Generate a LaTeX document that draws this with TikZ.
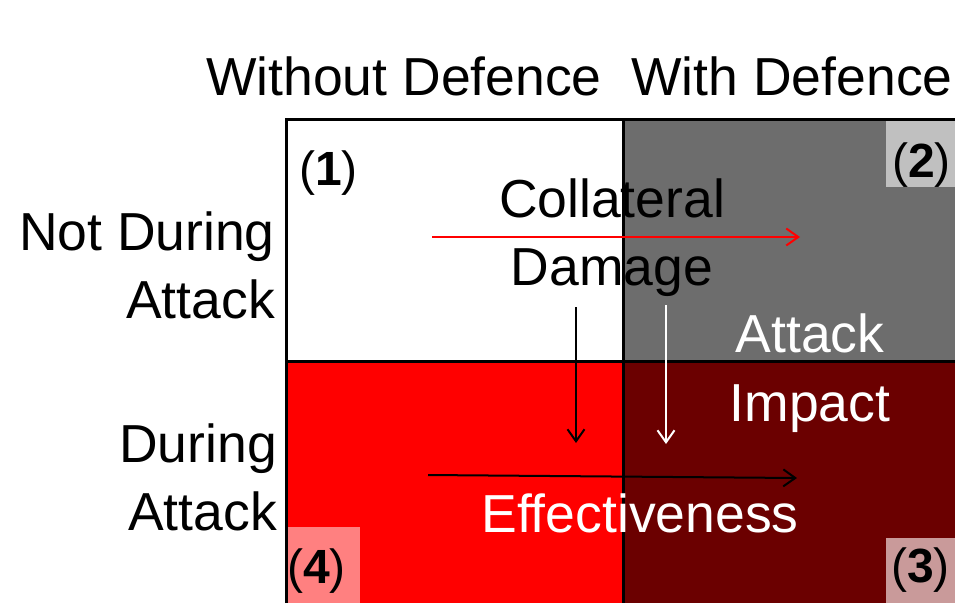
\documentclass[tikz,border=0pt]{standalone}
\usepackage{fontspec}
\setmainfont{Liberation Sans}
\usetikzlibrary{arrows.meta}
\definecolor{cgray}{HTML}{6D6D6D}
\definecolor{cdark}{HTML}{6B0000}
\definecolor{lgray}{HTML}{C0C0C0}
\definecolor{lpink}{HTML}{C99A9A}
\definecolor{pinkish}{HTML}{FF8080}
\tikzset{
  big/.style={font=\fontsize{53.5}{60}\selectfont, inner sep=0pt, anchor=base},
  corner/.style={font=\fontsize{48}{56}\selectfont, inner sep=0pt, anchor=base},
  grid/.style={line width=3pt, black},
  arr/.style={line width=2pt, -{Straight Barb[length=12pt,width=17pt,line width=2pt]}}
}
\newcommand{\lab}[1]{(\textbf{#1})}
\begin{document}
\begin{tikzpicture}[x=1pt,y=-1pt]
\useasboundingbox (0,0) rectangle (955,603);
% cells
\fill[white] (286,119) rectangle (623,361);
\fill[cgray] (623,119) rectangle (955,361);
\fill[red] (286,361) rectangle (623,603);
\fill[cdark] (623,361) rectangle (955,603);
% corner boxes
\fill[lgray] (886,120) rectangle (955,187);
\fill[lpink] (886,538) rectangle (955,603);
\fill[pinkish] (287,527) rectangle (360,603);
% grid
\draw[grid] (286,603) -- (286,119) -- (955,119);
\draw[grid] (623,119) -- (623,603);
\draw[grid] (286,361) -- (955,361);
% headers
\node[big] (h1) at (404,95) {Without Defence};
\node[big] (h2) at (792,95) {With Defence};
\node[big, anchor=base east] (r1a) at (275,250) {Not During};
\node[big, anchor=base east] (r1b) at (275,318) {Attack};
\node[big, anchor=base east] (r2a) at (277,462) {During};
\node[big, anchor=base east] (r2b) at (277,530) {Attack};
% corner labels
\node[corner, anchor=base west] (c1) at (299,185) {\lab{1}};
\node[corner, anchor=base west] (c2) at (892,177) {\lab{2}};
\node[corner, anchor=base west] (c3) at (891,582) {\lab{3}};
\node[corner, anchor=base west] (c4) at (287,583) {\lab{4}};
% inner text
\node[big] (t1) at (612,217) {Collateral};
\node[big] (t2) at (612,285) {Damage};
\node[big, white] (t3) at (810,352) {Attack};
\node[big, white] (t4) at (810,421) {Impact};
\node[big, white] (t5) at (640,532) {Effectiveness};
% arrows
\coordinate (a1s) at (432,237); \coordinate (a1e) at (800,237);
\coordinate (a2s) at (576,307); \coordinate (a2e) at (576,443);
\coordinate (a3s) at (666,305); \coordinate (a3e) at (666,444);
\coordinate (a4s) at (428,475); \coordinate (a4e) at (797,478);
\draw[arr, red] (a1s) -- (a1e);
\draw[arr, black] (a2s) -- (a2e);
\draw[arr, white] (a3s) -- (a3e);
\draw[arr, black] (a4s) -- (a4e);
\end{tikzpicture}
\end{document}
